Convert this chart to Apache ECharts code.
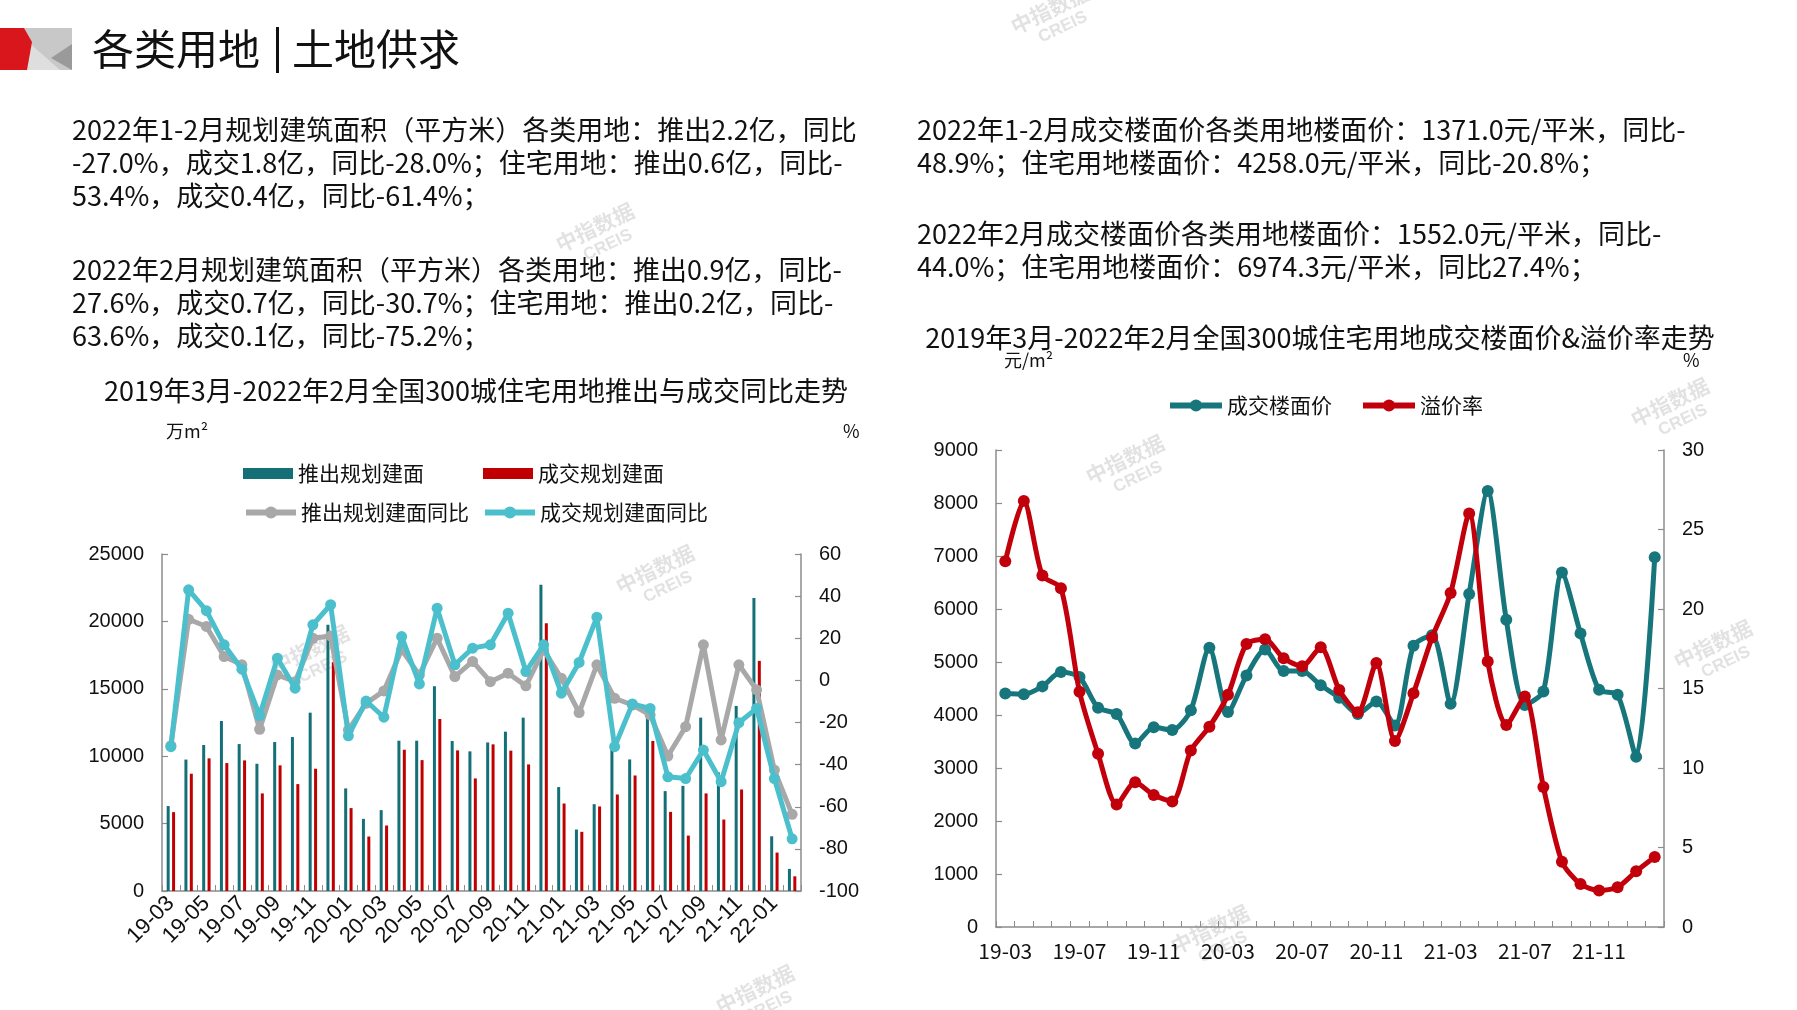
<!DOCTYPE html>
<html><head><meta charset="utf-8">
<script src="https://cdn.jsdelivr.net/npm/echarts/dist/echarts.min.js"></script>
<style>html,body{margin:0;padding:0;background:#fff}#c{width:1797px;height:1010px}</style>
</head><body><div id="c"></div>
<script>
// ---------- data ----------
const months = ['19-03','19-04','19-05','19-06','19-07','19-08','19-09','19-10','19-11','19-12',
  '20-01','20-02','20-03','20-04','20-05','20-06','20-07','20-08','20-09','20-10','20-11','20-12',
  '21-01','21-02','21-03','21-04','21-05','21-06','21-07','21-08','21-09','21-10','21-11','21-12',
  '22-01','22-02'];
// 万m²
const pushArea = [6300,9750,10830,12610,10900,9440,11050,11420,13230,19750,7610,5350,6000,11150,11150,15190,11130,10360,11020,11820,12860,22720,7710,4560,6440,10900,9760,13000,7410,7800,12860,8800,13730,21730,4060,1640];
const dealArea = [5850,8700,9840,9490,9690,7240,9320,7930,9070,16970,6150,4040,4860,10480,9710,12760,10430,8350,10880,10410,9390,19870,6490,4390,6270,7160,8570,11130,5870,4110,7240,5300,7530,17070,2850,1090];
// %
const pushYoY = [-31,29,25.6,11.3,7.4,-23.2,2.6,-0.6,20,21.1,-23.6,-10.9,-5,14.5,2.6,20,1.8,9,-0.6,3.4,-2.6,14.5,1,-15.3,7.4,-8.5,-11.7,-16.4,-35.9,-22,16.9,-28.3,7.4,-4.5,-42.6,-63.6];
const dealYoY = [-31.5,43,33.1,16.9,5.3,-16.7,10.5,-3.7,26.4,35.9,-26.3,-9.8,-17.5,20.8,-1.7,34.3,7.4,15.3,16.9,31.9,4.2,16.9,-6.1,8.5,30,-31.5,-11.2,-13.3,-45.8,-46.6,-33.1,-48.1,-20.1,-13.3,-46.6,-75.2];
// 元/m²
const floorPrice = [4405,4390,4540,4810,4715,4135,4020,3460,3770,3715,4090,5270,4055,4745,5235,4830,4830,4560,4325,4020,4255,3800,5305,5505,4210,6285,8225,5795,4190,4445,6690,5540,4475,4380,3210,6974.3];
// %
const premiumRate = [23.0,26.8,22.1,21.3,14.8,10.9,7.7,9.1,8.3,7.9,11.1,12.6,14.6,17.8,18.1,16.9,16.4,17.6,14.9,13.5,16.6,11.7,14.7,18.2,21.0,26.0,16.7,12.7,14.5,8.8,4.1,2.7,2.3,2.5,3.5,4.4];
const leftTicks = [0,5000,10000,15000,20000,25000];
const rightTicks = [-100,-80,-60,-40,-20,0,20,40,60];

const pageTitle = '各类用地';
const pageTitle2 = '土地供求';
const paraL1 = '2022年1-2月规划建筑面积（平方米）各类用地：推出2.2亿，同比\n-27.0%，成交1.8亿，同比-28.0%；住宅用地：推出0.6亿，同比-\n53.4%，成交0.4亿，同比-61.4%；';
const paraL2 = '2022年2月规划建筑面积（平方米）各类用地：推出0.9亿，同比-\n27.6%，成交0.7亿，同比-30.7%；住宅用地：推出0.2亿，同比-\n63.6%，成交0.1亿，同比-75.2%；';
const paraR1 = '2022年1-2月成交楼面价各类用地楼面价：1371.0元/平米，同比-\n48.9%；住宅用地楼面价：4258.0元/平米，同比-20.8%；';
const paraR2 = '2022年2月成交楼面价各类用地楼面价：1552.0元/平米，同比-\n44.0%；住宅用地楼面价：6974.3元/平米，同比27.4%；';
const titleL = '2019年3月-2022年2月全国300城住宅用地推出与成交同比走势';
const titleR = '2019年3月-2022年2月全国300城住宅用地成交楼面价&溢价率走势';

// ---------- style ----------
const CN = "'Liberation Sans Narrow','Noto Sans CJK SC',sans-serif";
const CJK = "'Noto Sans CJK SC',sans-serif";
const LAT = "'Liberation Sans',Arial,sans-serif";
const AX = '#8c8c8c';
const plain = function (v) { return String(v); };

function txt(x, y, s, size, extra) {
  return Object.assign({type:'text', x:x, y:y, silent:true,
    style:Object.assign({text:s, fontSize:size, fontFamily:CN, fill:'#111', lineHeight:33}, extra||{})});
}
function wm(x, y) {
  return {type:'group', x:x, y:y, rotation:0.45, silent:true, z:100, children:[
    {type:'text', x:0, y:-12, style:{text:'中指数据', fontSize:21, fontWeight:'bold', fontFamily:CJK, fill:'rgba(190,190,190,0.45)', align:'center', verticalAlign:'middle'}},
    {type:'text', x:4, y:10, style:{text:'CREIS', fontSize:17, fontWeight:'bold', fontFamily:LAT, fill:'rgba(190,190,190,0.45)', align:'center', verticalAlign:'middle'}}
  ]};
}

const graphic = [
  {type:'rect', silent:true, shape:{x:22,y:28,width:50,height:42}, style:{fill:'#c8c8c8'}},
  {type:'polygon', silent:true, shape:{points:[[26,40],[60,70],[26,70]]}, style:{fill:'#dedede'}},
  {type:'polygon', silent:true, shape:{points:[[72,44],[72,70],[51,58]]}, style:{fill:'#9a9a9a'}},
  {type:'polygon', silent:true, shape:{points:[[0,28],[24,28],[32,42],[27,70],[0,70]]}, style:{fill:'#d8161b'}},
  txt(92, 49, pageTitle, 42, {fontFamily:CJK, verticalAlign:'middle', fill:'#111'}),
  {type:'rect', silent:true, shape:{x:276,y:27,width:3,height:46}, style:{fill:'#111'}},
  txt(292, 49, pageTitle2, 42, {fontFamily:CJK, verticalAlign:'middle', fill:'#111'}),
  txt(72, 113, paraL1, 27, {verticalAlign:'top'}),
  txt(72, 253, paraL2, 27, {verticalAlign:'top'}),
  txt(917, 113, paraR1, 27, {verticalAlign:'top'}),
  txt(917, 217, paraR2, 27, {verticalAlign:'top'}),
  txt(476, 391, titleL, 27, {align:'center', verticalAlign:'middle'}),
  txt(1320, 338, titleR, 27, {align:'center', verticalAlign:'middle'}),
  txt(166, 431, '万m²', 18, {verticalAlign:'middle'}),
  txt(843, 431, '%', 18, {verticalAlign:'middle'}),
  txt(1004, 360, '元/m²', 18, {verticalAlign:'middle'}),
  txt(1683, 360, '%', 18, {verticalAlign:'middle'}),
  wm(1055, 20), wm(600, 238), wm(315, 660), wm(660, 580), wm(1130, 470),
  wm(1675, 413), wm(1718, 655), wm(1215, 940), wm(760, 1000)
];

const legendBase = {padding:0, itemGap:0, textStyle:{fontSize:21, color:'#111', fontFamily:CJK}};
function lg(name, left, top, w, h, icon) {
  const o = Object.assign({}, legendBase, {data:[name], left:left, top:top, itemWidth:w, itemHeight:h});
  if (icon) o.icon = icon; else o.lineStyle = {width:6};
  return o;
}

const axisCommon = {
  axisLine:{show:true, lineStyle:{color:AX, width:1.5}},
  axisTick:{show:true, inside:true, length:6, lineStyle:{color:AX, width:1.2}},
  splitLine:{show:false}
};

const option = {
  animation:false,
  backgroundColor:'#fff',
  graphic:graphic,
  legend:[
    lg('推出规划建面', 243, 463, 50, 11, 'rect'),
    lg('成交规划建面', 483, 463, 50, 11, 'rect'),
    lg('推出规划建面同比', 243, 502, 50, 15),
    lg('成交规划建面同比', 482, 502, 50, 15),
    lg('成交楼面价', 1167, 395, 52, 15),
    lg('溢价率', 1360, 395, 52, 15)
  ],
  grid:[
    {left:162, top:554, width:639, height:337, outerBoundsMode:'none', containLabel:false},
    {left:996, top:450, width:668, height:477, outerBoundsMode:'none', containLabel:false}
  ],
  xAxis:[
    Object.assign({}, axisCommon, {type:'category', gridIndex:0, data:months, boundaryGap:true,
      axisTick:{show:true, inside:true, interval:0, length:6, lineStyle:{color:AX}},
      axisLabel:{interval:1, rotate:45, fontSize:22, color:'#111', fontFamily:LAT, margin:9}}),
    Object.assign({}, axisCommon, {type:'category', gridIndex:1, data:months, boundaryGap:true,
      axisTick:{show:true, inside:true, interval:0, length:6, lineStyle:{color:AX}},
      axisLabel:{interval:3, fontSize:21, color:'#111', fontFamily:CN, margin:14}})
  ],
  yAxis:[
    Object.assign({}, axisCommon, {type:'value', gridIndex:0, min:leftTicks[0], max:leftTicks[leftTicks.length-1], interval:5000,
      axisLabel:{fontSize:20, color:'#111', fontFamily:LAT, margin:18, formatter:plain}}),
    Object.assign({}, axisCommon, {type:'value', gridIndex:0, position:'right', min:rightTicks[0], max:rightTicks[rightTicks.length-1], interval:20,
      axisLabel:{fontSize:20, color:'#111', fontFamily:LAT, margin:18, formatter:plain}}),
    Object.assign({}, axisCommon, {type:'value', gridIndex:1, min:0, max:9000, interval:1000,
      axisLabel:{fontSize:20, color:'#111', fontFamily:LAT, margin:18, formatter:plain}}),
    Object.assign({}, axisCommon, {type:'value', gridIndex:1, position:'right', min:0, max:30, interval:5,
      axisLabel:{fontSize:20, color:'#111', fontFamily:LAT, margin:18, formatter:plain}})
  ],
  series:[
    {name:'推出规划建面', type:'bar', xAxisIndex:0, yAxisIndex:0, data:pushArea, barWidth:3, barGap:'80%',
      itemStyle:{color:'#156f76'}, z:2},
    {name:'成交规划建面', type:'bar', xAxisIndex:0, yAxisIndex:0, data:dealArea, barWidth:3, barGap:'80%',
      itemStyle:{color:'#c00000'}, z:2},
    {name:'推出规划建面同比', type:'line', xAxisIndex:0, yAxisIndex:1, data:pushYoY, symbol:'circle', symbolSize:11,
      lineStyle:{width:5, color:'#a8a8a8'}, itemStyle:{color:'#a8a8a8'}, z:3},
    {name:'成交规划建面同比', type:'line', xAxisIndex:0, yAxisIndex:1, data:dealYoY, symbol:'circle', symbolSize:11,
      lineStyle:{width:5, color:'#4bbfcc'}, itemStyle:{color:'#4bbfcc'}, z:4},
    {name:'成交楼面价', type:'line', xAxisIndex:1, yAxisIndex:2, data:floorPrice, symbol:'circle', symbolSize:12, smooth:0.25,
      lineStyle:{width:5, color:'#17767c'}, itemStyle:{color:'#17767c'}, z:3},
    {name:'溢价率', type:'line', xAxisIndex:1, yAxisIndex:3, data:premiumRate, symbol:'circle', symbolSize:12, smooth:0.25,
      lineStyle:{width:5, color:'#c2000c'}, itemStyle:{color:'#c2000c'}, z:4}
  ]
};

const chart = echarts.init(document.getElementById('c'), null, {renderer:'canvas'});
chart.setOption(option);
</script>
</body></html>
